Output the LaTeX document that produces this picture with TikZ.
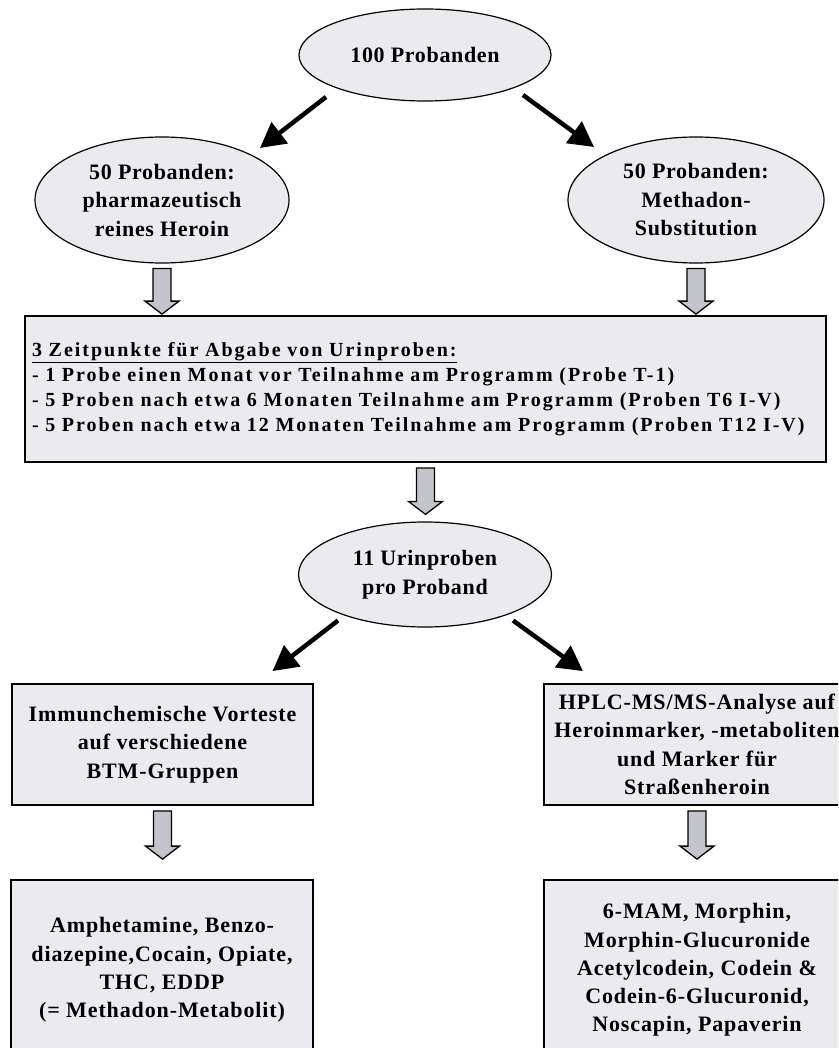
\documentclass[tikz,border=0pt]{standalone}
\usepackage{fontspec}
\setmainfont{Liberation Serif}
\usetikzlibrary{arrows.meta,calc,shapes.geometric}

\definecolor{panelgray}{RGB}{235,235,239}
\definecolor{blockgray}{RGB}{196,196,204}

\tikzset{
  group/.style={ellipse, draw, line width=1.2pt, fill=panelgray, inner sep=0pt, align=center,
    font=\bfseries\fontsize{22}{28.5}\selectfont\addfontfeature{LetterSpace=3}},
  stage/.style={rectangle, draw, line width=1.8pt, fill=panelgray, inner sep=0pt, align=center,
    font=\bfseries\fontsize{22}{28.3}\selectfont\addfontfeature{LetterSpace=4}},
  plan/.style={rectangle, draw, line width=1.8pt, fill=panelgray, inner xsep=7pt, inner ysep=0pt, align=left,
    font=\bfseries\fontsize{20}{25}\selectfont\addfontfeature{LetterSpace=10}},
  fatarrow/.style={line width=4.5pt, -{Triangle[length=25pt,width=26pt]}},
  blockarrow/.style={draw, line width=1.3pt, fill=blockgray, line join=miter}
}

% grey block arrow below node #1, tip #3 above node #2
\newcommand{\blockarrow}[3]{%
  \draw[blockarrow] let \p1=($(#1.south)+(0,5)$), \p2=($(#2.north)+(0,-#3)$) in
    (\x1-9pt,\y1) -- (\x1+9pt,\y1) -- (\x1+9pt,\y2+13pt) -- (\x1+17pt,\y2+13pt)
    -- (\x1,\y2) -- (\x1-17pt,\y2+13pt) -- (\x1-9pt,\y2+13pt) -- cycle;}

\begin{document}
\begin{tikzpicture}[x=1pt,y=-1pt]
  \useasboundingbox (0,0) rectangle (838,1048);
  \clip (0,0) rectangle (838,1048);

  % groups of participants
  \node[group, minimum width=252pt, minimum height=92pt] (all) at (425,55) {100 Probanden};
  \node[group, minimum width=254pt, minimum height=126pt] (heroin) at (162,200) {50 Probanden:\\pharmazeutisch\\reines Heroin};
  \node[group, minimum width=256pt, minimum height=126pt] (methadon) at (696,200) {50 Probanden:\\Methadon-\\Substitution};

  % sampling times
  \node[plan, text width=787pt, minimum height=146pt] (times) at (425.5,389)
    {\underline{3 Zeitpunkte für Abgabe von Urinproben:}\\
     - 1 Probe einen Monat vor Teilnahme am Programm (Probe T-1)\\
     - 5 Proben nach etwa 6 Monaten Teilnahme am Programm (Proben T6 I-V)\\
     - 5 Proben nach etwa 12 Monaten Teilnahme am Programm (Proben T12 I-V)};

  \node[group, minimum width=253pt, minimum height=105pt] (urine) at (425,574.5) {11 Urinproben\\pro Proband};

  % analyses
  \node[stage, minimum width=301pt, minimum height=121pt] (immuno) at (162.5,744.5)
    {Immunchemische Vorteste\\auf verschiedene\\BTM-Gruppen};
  \node[stage, minimum width=306pt, minimum height=121pt] (hplc) at (697,744.5)
    {HPLC-MS/MS-Analyse auf\\Heroinmarker, -metaboliten\\und Marker für\\Straßenheroin};

  % substances
  \node[stage, minimum width=302pt, minimum height=180pt] (btm) at (162,970)
    {Amphetamine, Benzo-\\diazepine,Cocain, Opiate,\\THC, EDDP\\(= Methadon-Metabolit)};
  \node[stage, minimum width=306pt, minimum height=180pt] (markers) at (697,970)
    {6-MAM, Morphin,\\Morphin-Glucuronide\\Acetylcodein, Codein \&\\Codein-6-Glucuronid,\\Noscapin, Papaverin};

  % black arrows
  \draw[fatarrow] ($(all.center)+(-99,42)$) -- ($(heroin.center)+(98,-52)$);
  \draw[fatarrow] ($(all.center)+(98,40)$) -- ($(methadon.center)+(-102,-53)$);
  \draw[fatarrow] ($(urine.center)+(-87,46)$) -- ($(immuno.north)+(110,-12)$);
  \draw[fatarrow] ($(urine.center)+(88,46)$) -- ($(hplc.north)+(-114,-12)$);

  % grey arrows
  \blockarrow{heroin}{times}{1}
  \blockarrow{methadon}{times}{1}
  \blockarrow{times}{urine}{7}
  \blockarrow{immuno}{btm}{20}
  \blockarrow{hplc}{markers}{20}
\end{tikzpicture}
\end{document}
